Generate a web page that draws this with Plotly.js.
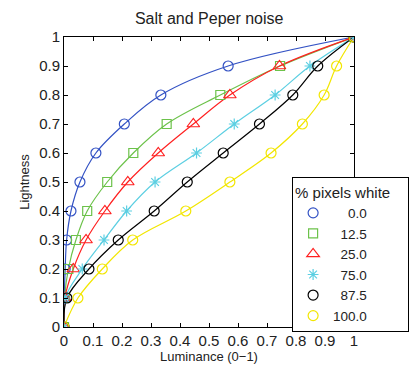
<!DOCTYPE html>
<html>
<head>
<meta charset="utf-8">
<script src="https://cdn.plot.ly/plotly-3.0.1.min.js"></script>
<style>html,body{margin:0;padding:0;background:#fff}#plot{width:411px;height:365px}</style>
</head>
<body>
<div id="plot"></div>
<script>
// Lightness levels (y) and luminance readings (x) per % pixels white
const lightness = [0, 0.1, 0.2, 0.3, 0.4, 0.5, 0.6, 0.7, 0.8, 0.9, 1];
const lum_0     = [0, 0.001, 0.004, 0.009, 0.024, 0.055, 0.110, 0.208, 0.334, 0.566, 1];
const lum_12_5  = [0, 0.002, 0.015, 0.041, 0.080, 0.149, 0.239, 0.354, 0.539, 0.745, 1];
const lum_25    = [0, 0.003, 0.032, 0.076, 0.141, 0.220, 0.325, 0.446, 0.572, 0.743, 1];
const lum_75    = [0, 0.004, 0.063, 0.138, 0.216, 0.314, 0.457, 0.587, 0.728, 0.848, 1];
const lum_87_5  = [0, 0.010, 0.086, 0.187, 0.311, 0.425, 0.549, 0.674, 0.789, 0.875, 1];
const lum_100   = [0, 0.048, 0.132, 0.237, 0.420, 0.572, 0.714, 0.822, 0.897, 0.940, 1];
const seriesNames = ['0.0', '12.5', '25.0', '75.0', '87.5', '100.0'];
const seriesData = [lum_0, lum_12_5, lum_25, lum_75, lum_87_5, lum_100];
const colors = ['#3352c4', '#6cc24a', '#ff2020', '#5ccfe2', '#000000', '#f2e600'];
const symbols = ['circle-open', 'square-open', 'triangle-up-open', 'asterisk-open', 'circle-open', 'circle-open'];
const sizes = [10, 9, 11, 9, 10, 10];

const FONT = 'Liberation Sans, Arial, sans-serif';
function pad(s) { // right-align labels with figure spaces
  return '\u2007'.repeat(5 - s.length) + s;
}
const traces = [];
seriesData.forEach((xs, i) => {
  traces.push({
    x: xs, y: lightness, type: 'scatter', mode: 'lines',
    line: {color: colors[i], width: 1.2, shape: 'spline', smoothing: 1},
    showlegend: false, hoverinfo: 'skip'
  });
});
seriesData.forEach((xs, i) => {
  traces.push({
    x: xs, y: lightness, type: 'scatter', mode: 'markers',
    name: pad(seriesNames[i]),
    marker: {symbol: symbols[i], color: colors[i], size: sizes[i], line: {width: 1.2, color: colors[i]}}
  });
});

const axisCommon = {
  range: [0, 1], dtick: 0.1, tick0: 0,
  showgrid: false, zeroline: false,
  showline: true, linecolor: '#000', linewidth: 1, mirror: 'ticks',
  ticks: 'inside', ticklen: 4, tickcolor: '#000', tickwidth: 1,
  tickfont: {family: FONT, size: 15, color: '#222'}
};
const layout = {
  width: 411, height: 365,
  margin: {l: 64, r: 57, t: 37, b: 38, autoexpand: false},
  paper_bgcolor: '#fff', plot_bgcolor: '#fff',
  font: {family: FONT, color: '#222'},
  title: {text: 'Salt and Peper noise', font: {family: FONT, size: 16, color: '#222'}, x: 0.509, xanchor: 'center', y: 0.95, yanchor: 'middle'},
  xaxis: Object.assign({}, axisCommon, {title: {text: 'Luminance (0\u22121)', font: {family: FONT, size: 13, color: '#222'}, standoff: 2}}),
  yaxis: Object.assign({}, axisCommon, {title: {text: 'Lightness', font: {family: FONT, size: 13, color: '#222'}, standoff: 6}}),
  legend: {
    orientation: 'h',
    x: 1.19, y: 0.517, xanchor: 'right', yanchor: 'top',
    bgcolor: '#fff', bordercolor: '#000', borderwidth: 1,
    font: {family: FONT, size: 13.5, color: '#222'},
    title: {text: '% pixels white', side: 'top', font: {family: FONT, size: 15, color: '#222'}},
    entrywidth: 70, itemwidth: 30
  },
  showlegend: true
};
Plotly.newPlot('plot', traces, layout, {displayModeBar: false, staticPlot: true});
</script>
</body>
</html>
